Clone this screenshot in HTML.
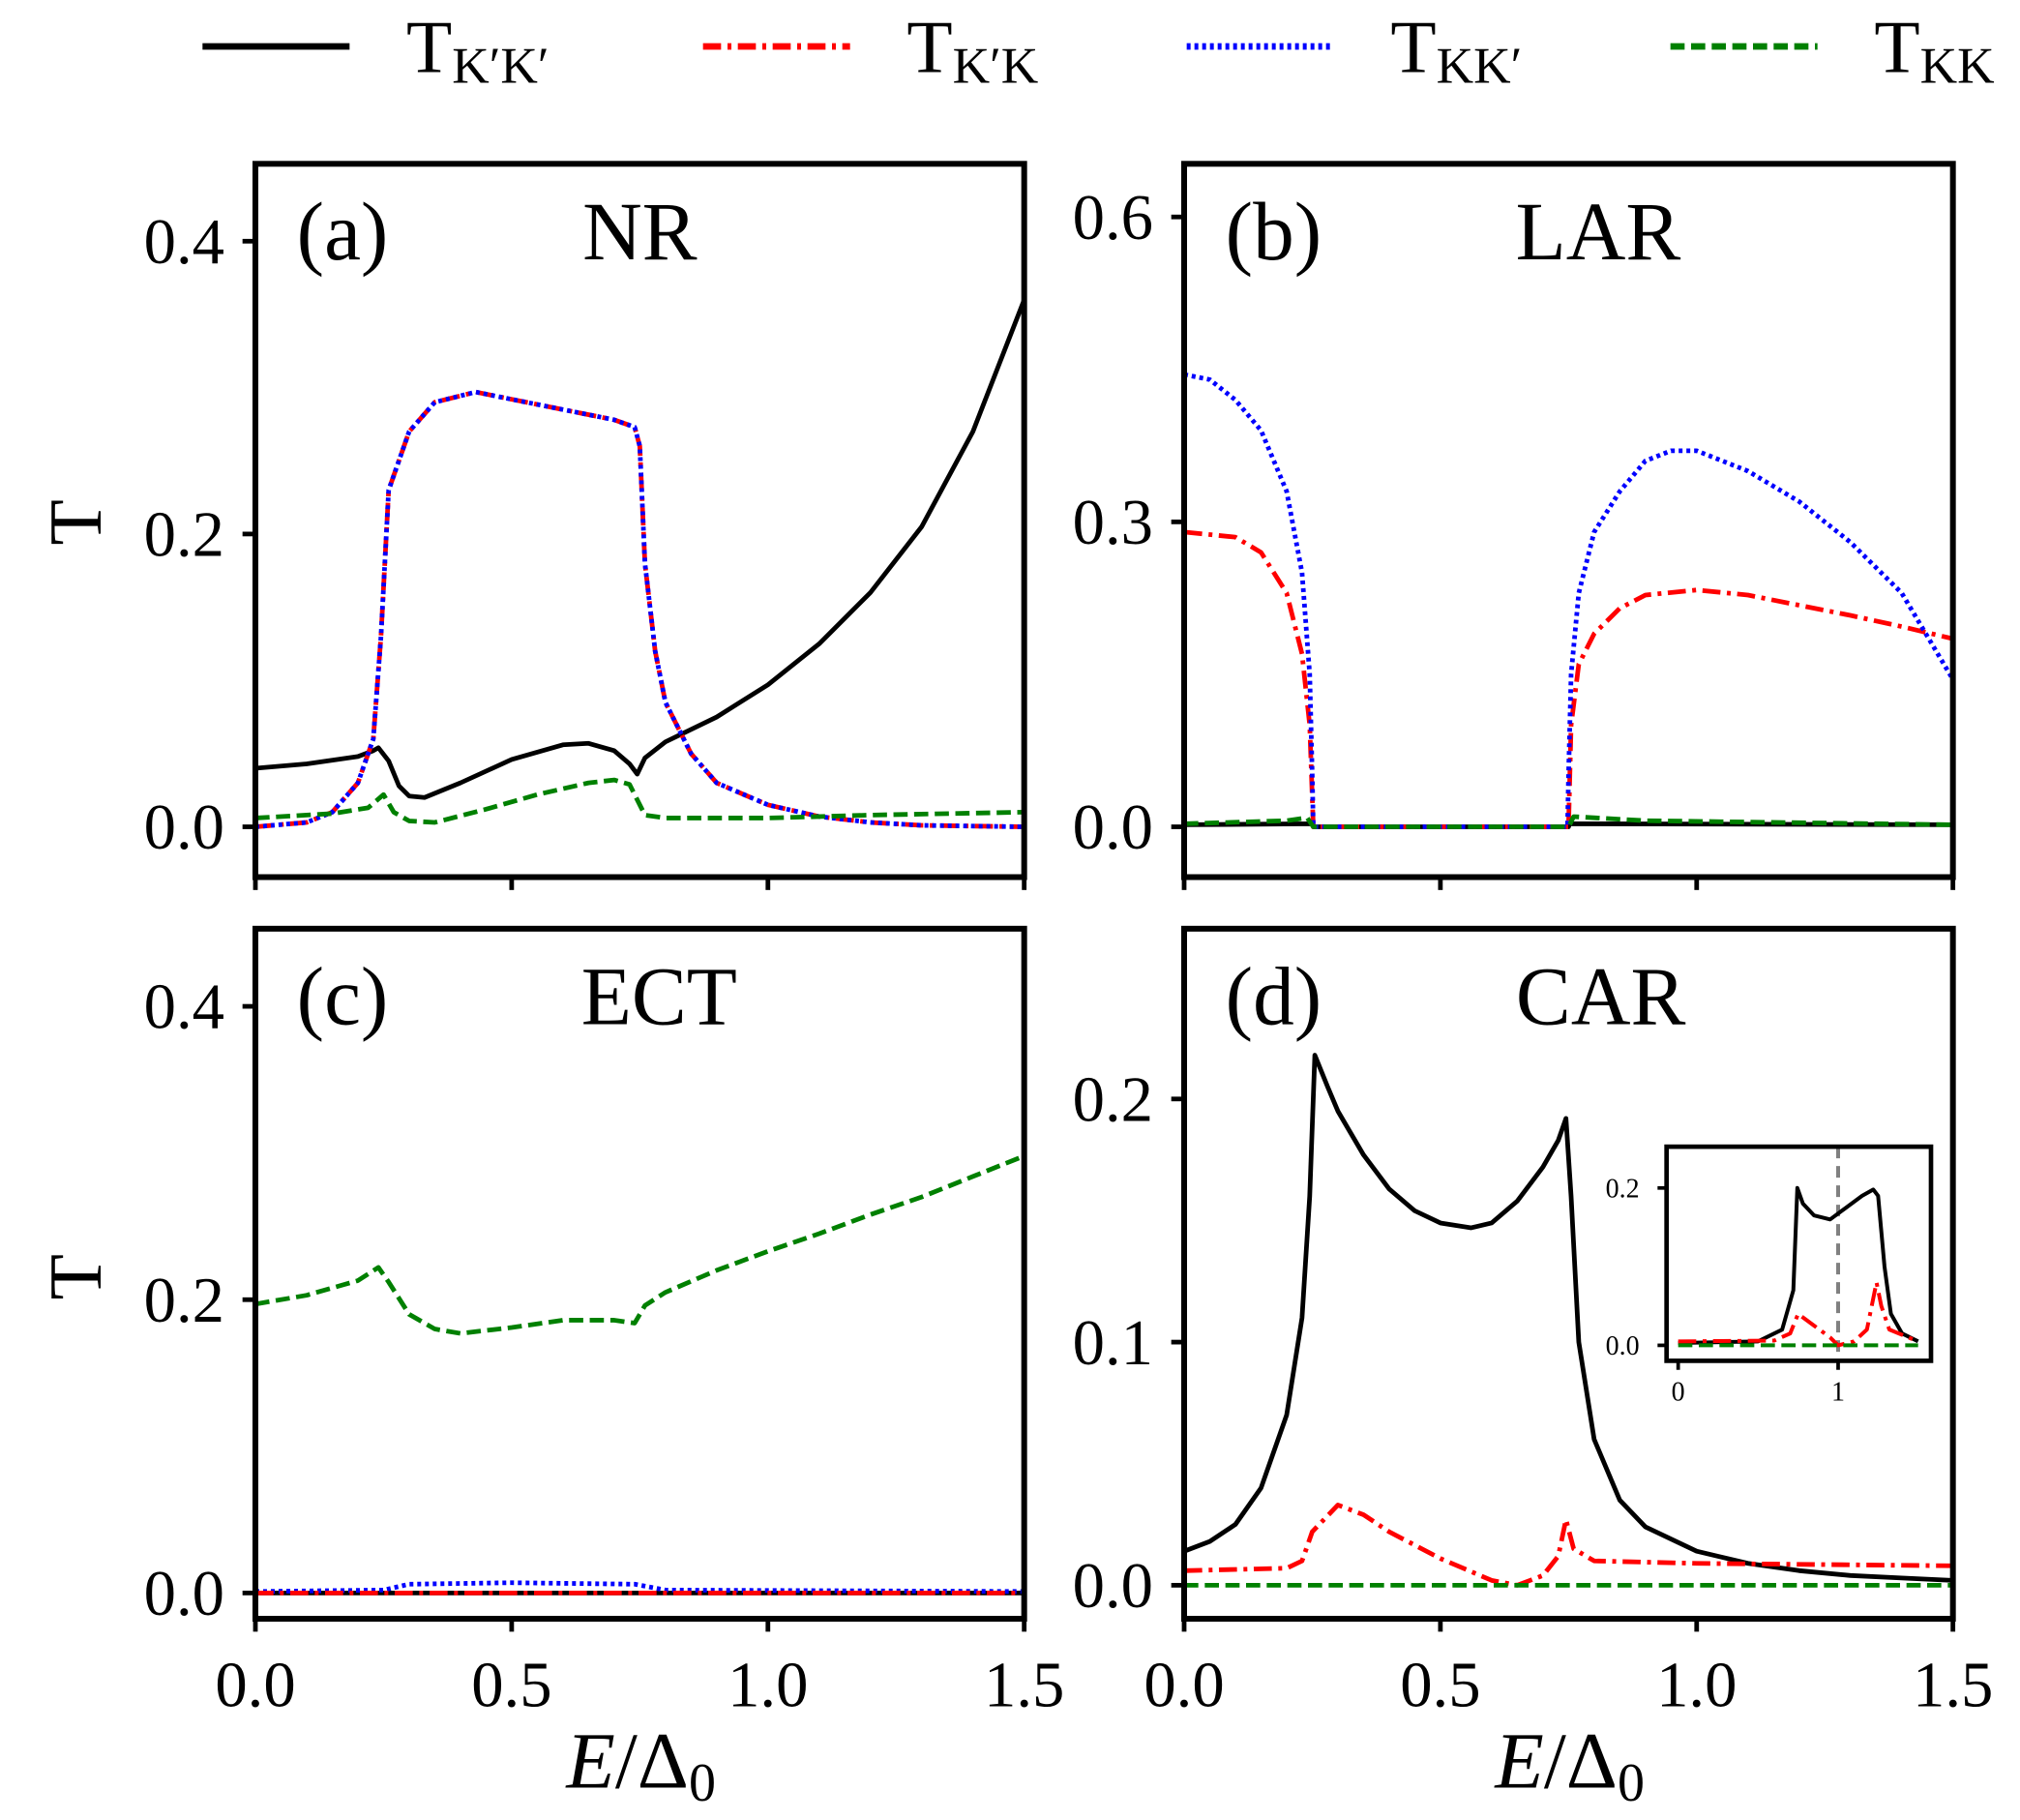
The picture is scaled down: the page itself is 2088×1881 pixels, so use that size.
<!DOCTYPE html>
<html><head><meta charset="utf-8"><style>
html,body{margin:0;padding:0;background:#fff}
svg{display:block}
text{font-family:"Liberation Serif","DejaVu Serif",serif;fill:#000}
</style></head><body>
<svg id="fig" width="2088" height="1881" viewBox="0 0 1566 1411" preserveAspectRatio="none" xmlns="http://www.w3.org/2000/svg">
<g id="legend"></g>
<g id="plots"></g>
</svg>
<script>
// ---- data ----
const aBlackX=[0,0.1,0.2,0.23,0.24,0.26,0.28,0.3,0.33,0.4,0.5,0.6,0.65,0.7,0.73,0.745,0.76,0.8,0.9,1.0,1.1,1.2,1.3,1.4,1.5];
const aBlackY=[0.04,0.043,0.048,0.052,0.054,0.045,0.028,0.021,0.02,0.03,0.046,0.056,0.057,0.052,0.043,0.036,0.047,0.058,0.075,0.097,0.125,0.16,0.205,0.27,0.36];
const aBlueX=[0,0.1,0.15,0.2,0.23,0.245,0.26,0.28,0.3,0.35,0.43,0.5,0.6,0.7,0.74,0.75,0.76,0.78,0.8,0.85,0.9,1.0,1.1,1.2,1.3,1.5];
const aBlueY=[0,0.003,0.01,0.03,0.06,0.13,0.23,0.25,0.27,0.29,0.297,0.292,0.285,0.278,0.273,0.26,0.18,0.12,0.085,0.05,0.03,0.015,0.007,0.003,0.001,0];
const aGreenX=[0,0.15,0.22,0.25,0.27,0.3,0.35,0.45,0.55,0.65,0.7,0.73,0.76,0.8,1.0,1.2,1.5];
const aGreenY=[0.006,0.009,0.013,0.022,0.01,0.004,0.003,0.012,0.022,0.03,0.032,0.029,0.008,0.006,0.006,0.008,0.01];

const bBlueX=[0,0.05,0.1,0.15,0.2,0.23,0.245,0.25,0.252,0.748,0.75,0.755,0.77,0.8,0.85,0.9,0.95,1.0,1.1,1.2,1.3,1.4,1.5];
const bBlueY=[0.445,0.44,0.42,0.39,0.33,0.25,0.15,0.05,0,0,0.05,0.15,0.23,0.29,0.33,0.36,0.37,0.37,0.35,0.32,0.28,0.23,0.145];
const bRedX=[0,0.1,0.15,0.2,0.23,0.245,0.252,0.75,0.755,0.77,0.8,0.85,0.9,1.0,1.1,1.2,1.3,1.4,1.5];
const bRedY=[0.29,0.285,0.27,0.23,0.17,0.1,0,0,0.1,0.16,0.19,0.215,0.228,0.233,0.228,0.218,0.208,0.197,0.185];
const bBlackX=[0,0.25,0.252,0.75,0.752,1.5];
const bBlackY=[0.002,0.003,0,0,0.003,0.002];
const bGreenX=[0,0.2,0.24,0.252,0.75,0.76,0.9,1.5];
const bGreenY=[0.003,0.006,0.009,0,0,0.01,0.006,0.002];

const cGreenX=[0,0.1,0.2,0.24,0.26,0.3,0.35,0.4,0.5,0.6,0.7,0.74,0.76,0.8,0.9,1.0,1.1,1.2,1.3,1.4,1.5];
const cGreenY=[0.197,0.203,0.213,0.222,0.212,0.19,0.18,0.177,0.181,0.186,0.186,0.184,0.196,0.205,0.22,0.233,0.245,0.258,0.27,0.284,0.298];
const cBlueX=[0,0.25,0.3,0.5,0.74,0.8,1.5];
const cBlueY=[0.001,0.002,0.006,0.007,0.006,0.002,0.001];
const cRedX=[0,1.5];
const cRedY=[0,0];
const cBlackX=[0,1.5];
const cBlackY=[0,0];

const dBlackX=[0,0.05,0.1,0.15,0.2,0.23,0.245,0.255,0.28,0.3,0.35,0.4,0.45,0.5,0.56,0.6,0.65,0.7,0.73,0.745,0.755,0.77,0.8,0.85,0.9,1.0,1.1,1.2,1.3,1.4,1.5];
const dBlackY=[0.014,0.018,0.025,0.04,0.07,0.11,0.16,0.218,0.205,0.195,0.177,0.163,0.154,0.149,0.147,0.149,0.158,0.172,0.183,0.192,0.16,0.1,0.06,0.035,0.024,0.014,0.009,0.006,0.004,0.003,0.002];
const dRedX=[0,0.2,0.23,0.25,0.3,0.35,0.4,0.5,0.6,0.65,0.7,0.73,0.745,0.76,0.8,1.0,1.5];
const dRedY=[0.006,0.007,0.01,0.022,0.033,0.029,0.022,0.011,0.002,0,0.004,0.012,0.027,0.015,0.01,0.009,0.008];
const dGreenX=[0,1.5];
const dGreenY=[0,0];

const inBlackX=[0,0.5,0.65,0.72,0.745,0.78,0.85,0.95,1.05,1.15,1.22,1.25,1.29,1.33,1.4,1.5];
const inBlackY=[0.003,0.005,0.02,0.07,0.2,0.18,0.165,0.16,0.175,0.19,0.198,0.19,0.1,0.04,0.015,0.005];
const inRedX=[0,0.6,0.7,0.75,0.85,0.95,1.0,1.1,1.18,1.22,1.24,1.27,1.32,1.5];
const inRedY=[0.005,0.006,0.015,0.04,0.025,0.01,0,0.005,0.02,0.06,0.08,0.05,0.02,0.005];
const inGreenX=[0,1.5];
const inGreenY=[0,0];

const xTicks=[0,0.5,1.0,1.5];
const xTickLabels=["0.0","0.5","1.0","1.5"];
const yTicksA=[0,0.2,0.4], yLabA=["0.0","0.2","0.4"];
const yTicksB=[0,0.3,0.6], yLabB=["0.0","0.3","0.6"];
const yTicksD=[0,0.1,0.2], yLabD=["0.0","0.1","0.2"];
const inXTicks=[0,1], inXLab=["0","1"];
const inYTicks=[0,0.2], inYLab=["0.0","0.2"];

// ---- drawing ----
const NS="http://www.w3.org/2000/svg";
function mk(tag,attrs,parent){const e=document.createElementNS(NS,tag);for(const k in attrs)e.setAttribute(k,attrs[k]);parent.appendChild(e);return e;}
const STY={
 black:{stroke:"#000",dash:""},
 red:{stroke:"#ff0000",dash:"14,5,3,5"},
 blue:{stroke:"#0000ff",dash:"3,3"},
 green:{stroke:"#008000",dash:"11,5"}
};
const plots=document.getElementById('plots');

function panel(name,px0,px1,py0,py1,xmin,xmax,y0pix,yUnitPix,yt,yl,showXLab,title,letter){
  const g=mk('g',{},plots);
  
  
  const sx=v=>px0+(v-xmin)/(xmax-xmin)*(px1-px0);
  const sy=v=>y0pix-v*yUnitPix;
  const clipId='clip-'+name;
  const cp=mk('clipPath',{id:clipId},g);
  mk('rect',{x:px0,y:py0,width:px1-px0,height:py1-py0},cp);
  const lines=mk('g',{'clip-path':'url(#'+clipId+')'},g);
  return {g,sx,sy,lines,px0,px1,py0,py1,yt,yl,showXLab,title,letter};
}
function series(P,xs,ys,sty,name,w){
  let d='';
  for(let i=0;i<xs.length;i++){d+=(i?'L':'M')+P.sx(xs[i]).toFixed(2)+','+P.sy(ys[i]).toFixed(2);}
  const s=STY[sty];
  const p=mk('path',{d:d,fill:'none',stroke:s.stroke,'stroke-width':w||3.6,'stroke-dasharray':s.dash,'stroke-linejoin':'round'},P.lines);
  
  
}
function axes(P,xt,xl,fs,tickLen,fw,xoff){
  const fr=mk('rect',{x:P.px0,y:P.py0,width:P.px1-P.px0,height:P.py1-P.py0,fill:'none',stroke:'#000','stroke-width':fw},P.g);
  
  
  xt.forEach((v,i)=>{
    const x=P.sx(v);
    mk('line',{x1:x,x2:x,y1:P.py1,y2:P.py1+tickLen,stroke:'#000','stroke-width':fw*0.8},P.g);
    if(P.showXLab){
      const t=mk('text',{x:x,y:P.py1+tickLen+xoff,'font-size':fs,'text-anchor':'middle'},P.g);
      t.textContent=xl[i];
      
      
    }
  });
  P.yt.forEach((v,i)=>{
    const y=P.sy(v);
    mk('line',{x1:P.px0-tickLen,x2:P.px0,y1:y,y2:y,stroke:'#000','stroke-width':fw*0.8},P.g);
    const t=mk('text',{x:P.px0-tickLen-14,y:y+fs*0.34,'font-size':fs,'text-anchor':'end'},P.g);
    t.textContent=P.yl[i];
    
    
  });
}
function labels(P){
  const l=mk('text',{x:P.px0+32,y:P.py0+74,'font-size':64},P.g);
  l.textContent=P.letter;
  
  
  const t=mk('text',{x:P.px0+P.title[1],y:P.py0+74,'font-size':64,'text-anchor':'middle'},P.g);
  t.textContent=P.title[0];
  
  
}

// (a)
const A=panel('panel-a',198,794,127,680,0,1.5,641,1135,yTicksA,yLabA,false,['NR',298],'(a)');
series(A,aBlackX,aBlackY,'black','series-kpkp');
series(A,aBlueX,aBlueY,'red','series-kpk');
series(A,aBlueX,aBlueY,'blue','series-kkp');
series(A,aGreenX,aGreenY,'green','series-kk');
axes(A,xTicks,xTickLabels,50,10,4.5,58);labels(A);
// (b)
const B=panel('panel-b',918,1514,127,680,0,1.5,641,788,yTicksB,yLabB,false,['LAR',321],'(b)');
series(B,bBlackX,bBlackY,'black','series-kpkp');
series(B,bRedX,bRedY,'red','series-kpk');
series(B,bBlueX,bBlueY,'blue','series-kkp');
series(B,bGreenX,bGreenY,'green','series-kk');
axes(B,xTicks,xTickLabels,50,10,4.5,58);labels(B);
// (c)
const C=panel('panel-c',198,794,720,1255,0,1.5,1235,1137,yTicksA,yLabA,true,['ECT',313],'(c)');
series(C,cBlackX,cBlackY,'black','series-kpkp');
series(C,cBlueX,cBlueY,'blue','series-kkp');
series(C,cRedX,cRedY,'red','series-kpk');
series(C,cGreenX,cGreenY,'green','series-kk');
axes(C,xTicks,xTickLabels,50,10,4.5,58);labels(C);
// (d)
const D=panel('panel-d',918,1514,720,1255,0,1.5,1229,1885,yTicksD,yLabD,true,['CAR',323],'(d)');
series(D,dBlackX,dBlackY,'black','series-kpkp');
series(D,dRedX,dRedY,'red','series-kpk');
series(D,dGreenX,dGreenY,'green','series-kk');
axes(D,xTicks,xTickLabels,50,10,4.5,58);labels(D);
// inset (x: 0 at 1301, 1 at 1425)
const I=panel('inset',1292,1497,889,1055,-9/124,196/124,1043,610,inYTicks,inYLab,true,['',0],'');
const vx=I.sx(1);
mk('line',{x1:vx,x2:vx,y1:889,y2:1055,stroke:'#808080','stroke-width':3,'stroke-dasharray':'9,6'},I.lines);
series(I,inBlackX,inBlackY,'black','inset-kpkp',3);
series(I,inRedX,inRedY,'red','inset-kpk',3);
series(I,inGreenX,inGreenY,'green','inset-kk',3);
axes(I,inXTicks,inXLab,21,7,3.5,24);

// axis labels
function txt(x,y,s,fs,extra,name){const t=mk('text',Object.assign({x:x,y:y,'font-size':fs,'text-anchor':'middle'},extra||{}),plots);t.innerHTML=s;return t;}
txt(78,405,'T',58,{transform:'rotate(-90 78 405)'},'y-axis-title-top');
txt(78,990,'T',58,{transform:'rotate(-90 78 990)'},'y-axis-title-bottom');
txt(497,1386,'<tspan font-style="italic">E</tspan>/Δ<tspan font-size="42" dy="10">0</tspan>',62,{},'x-axis-title-left');
txt(1217,1386,'<tspan font-style="italic">E</tspan>/Δ<tspan font-size="42" dy="10">0</tspan>',62,{},'x-axis-title-right');

// legend
const leg=document.getElementById('legend');
const legNames=['black','red','blue','green'];
const legX=[157,545,920,1295];
const legLab=["K′K′","K′K","KK′","KK"];
legNames.forEach((n,i)=>{
  const s=STY[n];
  const l=mk('line',{x1:legX[i],x2:legX[i]+114,y1:36,y2:36,stroke:s.stroke,'stroke-width':5,'stroke-dasharray':s.dash},leg);
  
  
  const t=mk('text',{x:legX[i]+158,y:56,'font-size':58},leg);
  t.innerHTML='T<tspan font-size="40" dy="8">'+legLab[i]+'</tspan>';
  
  
});
</script>
</body></html>
